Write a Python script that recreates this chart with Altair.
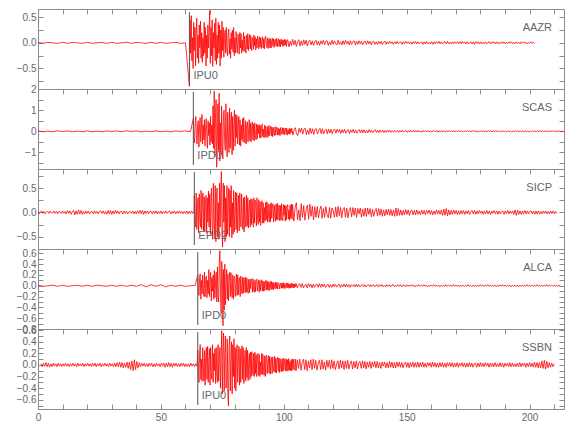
import json
import altair as alt
import pandas as pd

FONT = "Liberation Sans"
GREY = "#8c8c8c"
TEXT = "#666666"

X_MAX = 214
X_TICKS = [0, 10, 20, 30, 40, 50, 60, 70, 80, 90, 100, 110, 120, 130, 140, 150, 160, 170, 180, 190, 200, 210]
X_LABELS = [0, 50, 100, 150, 200]

STATIONS = ["AAZR", "SCAS", "SICP", "ALCA", "SSBN"]
PICKS = ["IPU0", "IPD0", "EPD2", "IPD0", "IPU0"]
PICK_TIMES = [61.6, 63.2, 63.6, 65.0, 65.0]
Y_DOMAINS = [[-0.9, 0.66], [-1.78, 2.0], [-0.75, 0.89], [-0.8, 0.68], [-0.76, 0.62]]
Y_TICKS = [
    [-0.75, -0.5, -0.25, 0, 0.25, 0.5],
    [-1.5, -1, -0.5, 0, 0.5, 1, 1.5, 2],
    [-0.75, -0.5, -0.25, 0, 0.25, 0.5, 0.75],
    [-0.8, -0.7, -0.6, -0.5, -0.4, -0.3, -0.2, -0.1, 0, 0.1, 0.2, 0.3, 0.4, 0.5, 0.6],
    [-0.7, -0.6, -0.5, -0.4, -0.3, -0.2, -0.1, 0, 0.1, 0.2, 0.3, 0.4, 0.5, 0.6],
]
Y_LABELS = [
    [-0.5, 0, 0.5],
    [-1, 0, 1, 2],
    [-0.5, 0, 0.5],
    [-0.8, -0.6, -0.4, -0.2, 0, 0.2, 0.4, 0.6],
    [-0.6, -0.4, -0.2, 0, 0.2, 0.4, 0.6],
]
Y_FORMATS = [".1f", ".0f", ".1f", ".1f", ".1f"]

# ---------------- traces: amplitude samples ----------------
AAZR_PRE = [0.01,-0.01,0.01,0.0,-0.01,0.01,-0.01,0.01,0.0,-0.01,0.01,-0.01,0.0,0.01,-0.01,0.01,-0.01,0.0,0.01,-0.01,0.01,0.0,-0.01,0.01,-0.01,0.01,-0.01,0.0,0.01,-0.01,0.0]
AAZR_MAIN = [
    -0.85,0.45,-0.2,0.53, -0.35,0.1,-0.5,0.4, -0.15,0.3,-0.45,0.2, 0.48,-0.3,0.15,-0.4,
    0.35,-0.1,0.42,-0.3, 0.2,-0.38,0.1,-0.25, 0.4,-0.2,0.3,-0.45, 0.15,-0.3,0.35,-0.1,
    0.2,0.63,-0.4,0.3, -0.25,0.45,-0.46,0.2, -0.1,0.38,-0.35,0.48, -0.42,0.15,-0.3,0.4,
    -0.2,0.35,-0.45,0.25, -0.3,0.42,-0.15,0.3, -0.28,0.1,0.25,-0.2, 0.3,-0.1,-0.25,0.18,
    0.27,-0.22,0.08,-0.3, 0.2,-0.12,0.25,-0.18, 0.3,-0.25,0.1,-0.2, 0.22,-0.05,-0.2,0.17,
    0.12,-0.22,0.2,-0.1, 0.18,-0.2,0.05,-0.15, 0.2,-0.17,0.13,-0.08, -0.2,0.15,-0.12,0.18,
    -0.15,0.06,0.16,-0.12, 0.14,-0.15,0.04,0.1, -0.13,0.15,-0.06,0.12, -0.14,0.08,-0.1,0.13,
    0.05,-0.12,0.12,-0.08, 0.1,-0.11,0.03,0.12, -0.1,0.08,-0.12,0.1, 0.13,-0.05,-0.09,0.1,
    -0.11,0.06,0.09,-0.1, 0.08,-0.1,0.04,0.09, -0.07,0.08,-0.09,0.05, 0.07,-0.06,0.09,-0.08,
    0.02,0.08,-0.07,0.06, -0.08,0.07,-0.03,0.06, -0.07,0.05,-0.06,0.07, -0.04,0.06,-0.07,0.05]
AAZR_CODA = [
    0.06,-0.08,0.03,-0.05,0.07,-0.04,0.05,-0.07,0.02,0.06,-0.06,0.04,-0.05,0.06,-0.03,0.05,-0.06,0.03,0.05,-0.04,
    0.04,-0.05,0.02,0.05,-0.04,0.03,-0.05,0.04,-0.02,0.05,-0.04,0.03,0.04,-0.05,0.02,-0.04,0.05,-0.03,0.04,-0.02,
    -0.04,0.05,-0.03,0.02,-0.04,0.04,-0.03,0.05,-0.02,0.03,-0.04,0.04,-0.03,0.02,0.04,-0.04,0.03,-0.03,0.04,-0.02,
    0.03,-0.04,0.02,0.03,-0.03,0.04,-0.02,0.03,-0.04,0.02,0.03,-0.03,0.02,-0.03,0.03,-0.02,0.03,-0.03,0.01,0.03,
    -0.03,0.02,-0.02,0.03,-0.01,0.02,-0.03,0.02,-0.02,0.03,-0.02,0.01,0.02,-0.03,0.02,-0.02,0.03,-0.01,0.02,-0.02,
    0.02,-0.03,0.02,-0.01,0.03,-0.02,0.02,-0.02,0.01,0.02,-0.03,0.02,-0.02,0.03,-0.02,0.01,-0.02,0.02,-0.03,0.02,
    -0.02,0.02,-0.01,0.03,-0.02,0.02,-0.02,0.01,0.02,-0.02,0.03,-0.02,0.01,-0.02,0.02,-0.02,0.02,-0.01,0.02,-0.02,
    0.02,-0.02,0.03,-0.01,0.02,-0.02,0.02,-0.02,0.01,0.02,-0.02,0.02,-0.03,0.02,-0.01,0.02,-0.02,0.02,-0.02,0.01,
    -0.02,0.02,-0.02,0.01,0.02,-0.02,0.02,-0.01,0.02,-0.02,0.02,-0.02,0.01,-0.02,0.02,-0.01,0.02,-0.02,0.01,-0.01,
    0.02,-0.01,0.02,-0.02,0.01,-0.02,0.02,-0.01,0.01,-0.02,0.02,-0.01,0.02,-0.01,0.01,-0.02,0.01,-0.01,0.02,-0.01,
    0.01,-0.01]

SCAS_PRE = [0.02,-0.02,0.01,-0.02,0.02,-0.01,0.02,-0.02,0.01,-0.02,0.02,-0.02,0.01,-0.02,0.02,-0.01,0.02,-0.02,0.02,-0.01,0.02,-0.02,0.01,-0.02,0.02,-0.02,0.01,-0.02,0.02,-0.01,0.02,-0.02]
SCAS_MAIN = [
    0.6,-0.3,-0.55,0.4, 0.7,-0.2,-0.6,0.3, 0.5,-0.75,0.2,0.65, -0.5,0.1,0.8,-0.6,
    0.3,-0.4,0.55,-0.7, 0.2,0.6,-0.35,-0.8, 0.5,-0.2,0.4,-0.65, 0.7,-0.5,0.3,-0.6,
    1.2,-0.8,1.9,-1.2, 0.6,1.5,-1.7,-0.5, 1.3,-0.9,1.8,-1.4, 0.4,-1.1,1.2,-0.6,
    -1.3,0.8,1.0,-0.5, -0.9,1.3,-0.4,-1.2, 0.9,-0.3,-1.0,1.1, -0.8,0.5,0.9,-1.1,
    0.7,-0.9,0.4,1.0, -0.7,0.8,-0.3,0.75, -0.6,0.2,0.7,-0.65, 0.55,-0.7,0.3,-0.4,
    0.6,-0.5,0.65,-0.2, -0.55,0.5,-0.6,0.3, 0.45,-0.5,0.1,0.55, -0.45,0.4,-0.5,0.2,
    0.45,-0.4,0.35,-0.45, 0.4,-0.2,-0.4,0.35, -0.35,0.3,-0.1,0.32, -0.3,0.28,-0.32,0.15,
    0.35,-0.25,0.1,-0.3, 0.3,-0.28,0.25,-0.1, -0.3,0.22,-0.25,0.28, -0.2,0.05,0.25,-0.22,
    0.2,-0.25,0.18,-0.1, -0.2,0.22,-0.18,0.08, 0.2,-0.17,0.15,-0.18, 0.12,-0.2,0.18,-0.05,
    -0.15,0.18,-0.12,0.15, -0.17,0.1,0.16,-0.14, 0.15,-0.18,0.06,-0.12, 0.14,-0.15,0.12,-0.08]
SCAS_CODA = [
    0.15,-0.18,0.08,0.17,-0.12,-0.2,0.14,-0.05,0.16,-0.13,0.1,0.15,-0.16,0.06,-0.14,0.16,-0.1,0.12,-0.15,0.08,
    0.13,-0.12,0.05,0.14,-0.11,0.12,-0.13,0.04,0.1,-0.12,0.11,-0.08,0.1,-0.11,0.06,0.1,-0.09,0.1,-0.04,0.09,
    -0.1,0.08,-0.06,0.09,-0.09,0.03,0.08,-0.1,0.07,-0.05,0.09,-0.08,0.06,-0.09,0.02,0.08,-0.07,0.08,-0.06,0.07,
    -0.08,0.04,-0.07,0.08,-0.05,0.06,-0.07,0.03,0.07,-0.06,0.05,-0.07,0.06,-0.03,0.06,-0.06,0.04,-0.05,0.06,-0.04,
    0.05,-0.05,0.03,-0.04,0.05,-0.02,0.04,-0.05,0.04,-0.03,0.05,-0.04,0.02,0.04,-0.05,0.03,-0.04,0.05,-0.02,0.04,
    -0.04,0.04,-0.03,0.05,-0.04,0.02,-0.04,0.04,-0.03,0.04,-0.02,0.04,-0.04,0.03,-0.04,0.02,0.04,-0.03,0.04,-0.04,
    0.03,-0.04,0.04,-0.02,0.03,-0.04,0.03,-0.03,0.04,-0.02,0.03,-0.03,0.04,-0.03,0.02,-0.03,0.04,-0.03,0.03,-0.02,
    -0.03,0.03,-0.02,0.04,-0.03,0.03,-0.03,0.02,0.03,-0.03,0.03,-0.04,0.02,-0.03,0.03,-0.02,0.03,-0.03,0.02,-0.03,
    0.03,-0.02,0.03,-0.03,0.02,-0.03,0.03,-0.02,0.03,-0.03,0.02,-0.02,0.03,-0.03,0.02,-0.03,0.03,-0.02,0.02,-0.03,
    0.02,-0.03,0.03,-0.02,0.03,-0.02,0.02,-0.03,0.02,-0.02,0.03,-0.02,0.02,-0.03,0.02,-0.02,0.03,-0.02,0.02,-0.02,
    0.03,-0.02,0.02,-0.02,0.03,-0.02,0.02,-0.03,0.02,-0.02,0.02,-0.02,0.03,-0.02,0.02,-0.02,0.02,-0.02,0.02,-0.02,
    0.02,-0.02]

SICP_PRE = [
    0.02,-0.03,0.01,0.03,-0.02,0.02,-0.03,0.01,0.02,-0.02,0.03,-0.01,-0.02,0.03,-0.02,0.02,-0.03,0.02,0.01,-0.02,
    0.03,-0.02,0.02,-0.03,0.04,-0.02,0.03,-0.04,0.02,0.04,-0.05,0.03,-0.04,0.05,-0.03,0.04,-0.04,0.02,-0.03,0.03,
    -0.02,0.03,-0.03,0.01,0.02,-0.03,0.03,-0.02,0.02,-0.03,0.02,0.03,-0.02,0.03,-0.03,0.02,-0.04,0.04,-0.03,0.04,
    -0.04,0.03,-0.03,0.04,-0.02,0.03,-0.03,0.02,0.02,-0.03,0.03,-0.02,0.02,-0.03,0.01,0.02,-0.02,0.03,-0.03,0.02,
    -0.03,0.03,-0.02,0.04,-0.03,0.04,-0.04,0.03,-0.02,0.03,-0.03,0.02,0.02,-0.03,0.03,-0.02,0.03,-0.03,0.02,-0.02,
    0.03,-0.03,0.02,-0.02,0.03,-0.02,0.01,0.03,-0.03,0.02,-0.02,0.03,-0.03,0.02,-0.02,0.03,-0.02,0.02,-0.03,0.02,
    -0.02,0.03,-0.03,0.02,-0.02,0.03,-0.02,0.02]
SICP_MAIN = [
    0.35,-0.2,-0.3,0.4, -0.35,0.1,0.3,-0.42, 0.38,-0.1,-0.3,0.45, -0.35,0.2,0.4,-0.38,
    0.32,-0.4,0.15,0.35, -0.42,0.3,-0.2,0.44, -0.3,0.38,-0.45,0.2, 0.5,-0.3,-0.55,0.6,
    -0.2,-0.45,0.55,-0.6, 0.3,0.5,-0.5,0.2, -0.55,0.6,-0.3,0.45, 0.84,-0.4,-0.71,0.6,
    -0.2,0.55,-0.6,0.3, -0.5,0.55,-0.45,0.1, 0.5,-0.5,0.45,-0.3, 0.55,-0.52,0.2,-0.45,
    0.45,-0.4,0.1,0.42, -0.35,0.4,-0.42,0.15, 0.35,-0.38,0.4,-0.2, -0.3,0.38,-0.1,-0.35,
    0.3,-0.4,0.32,-0.15, -0.3,0.35,-0.28,0.3, -0.32,0.1,0.25,-0.3, 0.28,-0.25,0.27,-0.1,
    -0.3,0.3,-0.22,0.25, 0.2,-0.28,0.3,-0.15, -0.25,0.26,-0.2,0.22, -0.27,0.12,0.24,-0.22,
    0.2,-0.22,0.1,-0.18, 0.2,-0.15,0.22,-0.2, 0.18,-0.08,-0.2,0.17, -0.19,0.2,-0.12,0.16,
    0.18,-0.2,0.15,-0.05, -0.18,0.17,-0.15,0.19, -0.16,0.08,0.15,-0.17, 0.14,-0.16,0.18,-0.1,
    -0.17,0.16,-0.06,0.15, -0.18,0.14,-0.15,0.12, 0.16,-0.14,0.05,-0.16, 0.15,-0.12,0.17,-0.14]
SICP_CODA = [
    0.16,-0.18,0.1,0.2,-0.15,0.05,-0.17,0.18,-0.1,0.14,-0.16,0.06,0.15,-0.14,0.17,-0.08,0.13,-0.15,0.12,-0.1,
    0.12,-0.11,0.05,0.13,-0.12,0.08,-0.1,0.12,-0.04,-0.11,0.1,-0.12,0.09,0.03,-0.1,0.11,-0.09,0.12,-0.07,0.1,
    -0.11,0.06,0.1,-0.1,0.09,-0.11,0.04,0.1,-0.09,0.1,-0.06,0.09,-0.1,0.08,-0.03,0.09,-0.1,0.07,-0.08,0.09,
    -0.08,0.09,-0.04,0.08,-0.09,0.06,-0.08,0.03,0.08,-0.07,0.08,-0.06,0.07,-0.08,0.05,-0.07,0.06,-0.05,0.07,-0.06,
    0.06,-0.07,0.05,-0.08,0.09,-0.07,0.08,-0.06,0.05,-0.06,0.04,-0.05,0.06,-0.04,0.05,-0.06,0.03,0.05,-0.05,0.04,
    -0.05,0.05,-0.04,0.03,-0.05,0.05,-0.03,0.04,-0.05,0.04,-0.02,0.05,-0.04,0.04,-0.05,0.03,-0.04,0.05,-0.03,0.04,
    -0.04,0.05,-0.06,0.07,-0.06,0.08,-0.07,0.05,-0.05,0.04,-0.04,0.05,-0.03,0.04,-0.04,0.03,-0.04,0.04,-0.03,0.04,
    -0.04,0.03,-0.03,0.04,-0.04,0.02,0.04,-0.03,0.04,-0.04,0.03,-0.03,0.04,-0.02,0.03,-0.04,0.03,-0.03,0.04,-0.03,
    0.03,-0.04,0.03,-0.02,0.04,-0.03,0.03,-0.04,0.03,-0.03,0.02,0.03,-0.04,0.03,-0.03,0.04,-0.03,0.03,-0.02,0.03,
    -0.04,0.05,-0.06,0.05,-0.04,0.03,-0.04,0.03,-0.03,0.04,-0.03,0.03,-0.03,0.02,0.03,-0.03,0.03,-0.04,0.03,-0.03,
    0.03,-0.03,0.02,-0.03,0.03,-0.02,0.03,-0.03,0.02,-0.03,0.03,-0.02,0.03,-0.03,0.02,-0.02]

ALCA_PRE = [0.01,-0.01,0.0,0.01,-0.01,0.01,-0.01,0.0,0.01,-0.01,0.01,-0.01,0.01,0.0,-0.01,0.01,-0.01,0.01,-0.01,0.01,-0.01,0.02,-0.02,0.02,-0.01,0.02,-0.02,0.01,-0.01,0.01,-0.01,0.0,0.01]
ALCA_MAIN = [
    0.2,-0.1,-0.18,0.15, 0.22,-0.25,0.1,-0.15, 0.2,-0.05,-0.2,0.25, -0.2,0.12,0.18,-0.22,
    0.1,-0.15,0.3,-0.2, 0.05,0.25,-0.28,0.15, -0.1,0.2,-0.25,0.28, -0.22,0.1,0.25,-0.3,
    0.35,-0.2,-0.3,0.4, 0.65,-0.1,-0.5,0.45, 0.2,-0.74,0.3,-0.45, 0.4,-0.35,0.1,0.3,
    -0.25,0.22,-0.28,0.1, 0.25,-0.2,0.24,-0.08, -0.22,0.2,-0.25,0.15, 0.18,-0.2,0.05,0.22,
    -0.18,0.2,-0.17,0.1, 0.15,-0.2,0.18,-0.05, -0.15,0.16,-0.14,0.15, 0.1,-0.13,0.16,-0.12,
    0.14,-0.1,-0.14,0.12, -0.13,0.12,-0.05,0.13, 0.11,-0.12,0.13,-0.08, -0.12,0.1,-0.11,0.12,
    0.12,-0.1,0.04,0.11, -0.12,0.1,-0.09,0.05, 0.11,-0.1,0.09,-0.1, 0.08,-0.09,0.03,0.1,
    -0.08,0.09,-0.08,0.07, -0.09,0.04,0.08,-0.07, 0.08,-0.07,0.06,-0.07, 0.06,-0.03,-0.06,0.07,
    -0.05,0.06,-0.06,0.05, 0.05,-0.06,0.02,0.05, -0.05,0.05,-0.04,0.06, -0.05,0.04,-0.05,0.02,
    0.05,-0.04,0.05,-0.04, 0.04,-0.05,0.03,-0.04, 0.05,-0.03,0.04,-0.04, 0.03,-0.04,0.04,-0.02]
ALCA_CODA = [
    0.04,-0.04,0.02,0.04,-0.03,0.04,-0.04,0.01,0.03,-0.04,0.04,-0.02,0.03,-0.04,0.03,-0.03,0.02,0.03,-0.03,0.04,
    -0.03,0.03,-0.02,0.03,-0.03,0.01,0.03,-0.03,0.02,-0.03,0.03,-0.02,0.03,-0.02,0.01,0.03,-0.03,0.02,-0.02,0.03,
    -0.02,0.03,-0.02,0.02,-0.03,0.02,-0.01,0.02,-0.02,0.03,-0.02,0.02,-0.02,0.01,0.02,-0.02,0.02,-0.02,0.01,0.02,
    -0.02,0.02,-0.01,0.02,-0.02,0.01,0.02,-0.02,0.02,-0.01,0.02,-0.02,0.01,-0.02,0.02,-0.01,0.02,-0.02,0.01,0.02,
    -0.02,0.01,-0.01,0.02,-0.01,0.02,-0.02,0.01,0.01,-0.02,0.02,-0.01,0.01,-0.01,0.02,-0.01,0.01,-0.02,0.01,-0.01,
    0.02,-0.01,0.01,-0.01,0.02,-0.01,0.01,-0.02,0.01,-0.01,0.01,-0.01,0.02,-0.01,0.01,-0.01,0.01,-0.02,0.01,-0.01,
    0.01,-0.01,0.02,-0.01,0.01,-0.01,0.01,-0.01,0.02,-0.01,0.01,-0.01,0.01,-0.02,0.01,-0.01,0.01,-0.01,0.01,-0.01,
    0.02,-0.01,0.01,-0.01,0.01,-0.02,0.01,-0.01,0.01,-0.01,0.02,-0.01,0.01,-0.01,0.01,-0.01,0.02,-0.01,0.01,-0.01,
    0.01,-0.01,0.01,-0.02,0.01,-0.01,0.01,-0.01,0.02,-0.01,0.01,-0.01,0.01,-0.01,0.01,-0.02,0.01,-0.01,0.01,-0.01,
    0.01,-0.02,0.01,-0.01,0.01,-0.01,0.01,-0.01,0.02,-0.01,0.01,-0.01,0.01,-0.01,0.01,-0.01,0.02,-0.01,0.01,-0.01,
    0.01,-0.01,0.01,-0.01,0.02,-0.01,0.01,-0.01,0.01,-0.01,0.01,-0.01,0.01,-0.01,0.01,-0.01]

SSBN_PRE = [
    0.02,-0.03,0.03,-0.02,0.04,-0.03,0.03,-0.04,0.02,-0.03,0.03,-0.02,0.02,-0.03,0.03,-0.02,0.02,-0.03,0.02,-0.02,
    0.03,-0.02,0.02,-0.03,0.02,-0.02,0.03,-0.02,0.02,-0.03,0.03,-0.02,0.02,-0.02,0.03,-0.03,0.02,-0.02,0.03,-0.02,
    0.02,-0.03,0.03,-0.02,0.03,-0.03,0.02,-0.02,0.03,-0.03,0.02,-0.02,0.03,-0.02,0.02,-0.03,0.03,-0.02,0.02,-0.03,
    0.03,-0.03,0.04,-0.03,0.05,-0.04,0.04,-0.05,0.03,-0.04,0.05,-0.06,0.05,-0.08,0.07,-0.1,0.09,-0.08,0.06,-0.05,
    0.04,-0.03,0.03,-0.02,0.03,-0.03,0.02,-0.03,0.03,-0.02,0.03,-0.03,0.02,-0.03,0.03,-0.02,0.02,-0.03,0.03,-0.02,
    0.03,-0.04,0.03,-0.03,0.04,-0.03,0.03,-0.04,0.03,-0.02,0.03,-0.03,0.02,-0.03,0.03,-0.02,0.03,-0.03,0.02,-0.03,
    0.02,-0.03,0.03,-0.02,0.02,-0.03,0.02,-0.02]
SSBN_MAIN = [
    0.25,-0.1,-0.3,0.2, 0.35,-0.25,0.1,-0.28, 0.3,-0.05,-0.28,0.25, -0.35,0.15,0.3,-0.25,
    0.32,-0.3,0.05,0.28, -0.35,0.3,-0.15,-0.25, 0.35,-0.3,0.2,-0.1, 0.28,-0.32,0.3,-0.2,
    -0.3,0.35,-0.28,0.1, 0.3,-0.4,0.2,0.59, -0.5,0.3,0.55,-0.45, 0.2,0.5,-0.4,-0.3,
    0.45,-0.55,-0.71,0.3, 0.5,-0.45,0.1,0.4, -0.5,0.35,-0.2,0.45, -0.4,0.3,-0.45,0.2,
    0.35,-0.3,0.1,0.32, -0.35,0.28,-0.3,0.15, 0.33,-0.25,0.3,-0.32, 0.05,0.25,-0.28,0.3,
    -0.22,0.25,-0.27,0.1, 0.2,-0.25,0.22,-0.2, 0.23,-0.1,-0.18,0.2, -0.2,0.22,-0.15,0.18,
    -0.2,0.12,0.2,-0.18, 0.18,-0.2,0.05,-0.16, 0.2,-0.17,0.18,-0.1, -0.18,0.16,-0.2,0.14,
    0.17,-0.15,0.05,0.16, -0.14,0.15,-0.16,0.1, 0.13,-0.15,0.14,-0.05, -0.12,0.15,-0.13,0.12,
    -0.14,0.08,0.13,-0.11, 0.12,-0.13,0.11,-0.06, -0.12,0.1,-0.11,0.12, -0.1,0.04,0.11,-0.1,
    0.1,-0.11,0.09,-0.1, 0.11,-0.09,0.06,-0.1, 0.09,-0.1,0.1,-0.08, 0.1,-0.04,-0.09,0.1]
SSBN_CODA = [
    -0.1,0.09,-0.06,0.1,-0.09,0.04,0.1,-0.08,0.09,-0.1,0.07,-0.05,0.09,-0.08,0.1,-0.06,0.08,-0.09,0.03,0.08,
    -0.08,0.09,-0.07,0.05,-0.09,0.08,-0.04,0.08,-0.07,0.09,-0.06,0.07,-0.08,0.02,0.07,-0.07,0.08,-0.05,0.07,-0.08,
    0.07,-0.06,0.08,-0.07,0.03,0.07,-0.07,0.06,-0.05,0.07,-0.07,0.04,0.06,-0.06,0.07,-0.05,0.06,-0.07,0.05,-0.04,
    0.06,-0.06,0.05,-0.03,0.06,-0.05,0.06,-0.05,0.04,-0.06,0.05,-0.02,0.05,-0.05,0.04,-0.05,0.06,-0.04,0.05,-0.05,
    0.04,-0.05,0.05,-0.03,0.05,-0.04,0.04,-0.05,0.02,0.05,-0.04,0.04,-0.05,0.04,-0.03,0.05,-0.04,0.04,-0.04,0.05,
    -0.04,0.04,-0.03,0.05,-0.04,0.03,-0.04,0.04,-0.02,0.04,-0.04,0.05,-0.03,0.04,-0.04,0.03,-0.04,0.04,-0.03,0.04,
    -0.04,0.03,-0.04,0.04,-0.02,0.04,-0.03,0.04,-0.04,0.03,-0.03,0.04,-0.04,0.03,-0.02,0.04,-0.03,0.03,-0.04,0.03,
    -0.03,0.04,-0.03,0.03,-0.04,0.02,0.03,-0.04,0.03,-0.03,0.04,-0.03,0.03,-0.03,0.04,-0.02,0.03,-0.04,0.03,-0.03,
    0.03,-0.03,0.04,-0.03,0.02,-0.03,0.04,-0.03,0.03,-0.04,0.03,-0.02,0.03,-0.03,0.04,-0.03,0.03,-0.03,0.02,-0.03,
    0.03,-0.03,0.04,-0.03,0.03,-0.02,0.03,-0.04,0.03,-0.03,0.04,-0.03,0.03,-0.04,0.05,-0.04,0.04,-0.05,0.04,-0.05,
    0.07,-0.06,0.08,-0.07,0.06,-0.05,0.04,-0.04,0.03,-0.03,0.02]

# (start time, sample interval, samples)
SEGMENTS = {
    "AAZR": [(0.0, 2.0, AAZR_PRE), (61.6, 0.25, AAZR_MAIN), (101.6, 0.5, AAZR_CODA)],
    "SCAS": [(0.0, 2.0, SCAS_PRE), (63.2, 0.25, SCAS_MAIN), (103.2, 0.5, SCAS_CODA)],
    "SICP": [(0.0, 0.5, SICP_PRE), (63.6, 0.25, SICP_MAIN), (103.6, 0.5, SICP_CODA)],
    "ALCA": [(0.0, 2.0, ALCA_PRE), (65.0, 0.25, ALCA_MAIN), (105.0, 0.5, ALCA_CODA)],
    "SSBN": [(1.2, 0.5, SSBN_PRE), (65.0, 0.25, SSBN_MAIN), (105.0, 0.5, SSBN_CODA)],
}

W, H = 526, 80


def panel(i, last):
    name = STATIONS[i]
    rows = []
    for t0, dt, vals in SEGMENTS[name]:
        for k, v in enumerate(vals):
            rows.append({"t": t0 + k * dt, "v": v})
    df = pd.DataFrame(rows)
    xs = alt.Scale(domain=[0, X_MAX], nice=False, zero=False)
    ys = alt.Scale(domain=Y_DOMAINS[i], nice=False, zero=False)
    ylab = "indexof(" + json.dumps(Y_LABELS[i]) + ", datum.value) >= 0 ? datum.label : ''"
    xlab = "indexof(" + json.dumps(X_LABELS) + ", datum.value) >= 0 ? datum.label : ''"
    common = dict(tickSize=5, offset=-5, domain=False, grid=False, title=None,
                  tickColor=GREY, labelOverlap=False)
    top_axis = alt.Axis(orient="top", values=X_TICKS, labels=False, **common)
    left_axis = alt.Axis(orient="left", values=Y_TICKS[i], format=Y_FORMATS[i],
                         labelExpr=ylab, labelPadding=2, **common)
    right_axis = alt.Axis(orient="right", values=Y_TICKS[i], labels=False, **common)
    trace = alt.Chart(df).mark_line(color="#ff0000", strokeWidth=0.8, clip=True).encode(
        x=alt.X("t:Q", scale=xs, axis=top_axis),
        y=alt.Y("v:Q", scale=ys, axis=left_axis),
        order="t:Q",
    )
    frame_df = pd.DataFrame({"t": [0, X_MAX], "v": [0, 0]})
    if last:
        bx = alt.X("t:Q", scale=xs, axis=alt.Axis(orient="bottom", values=X_TICKS, labelExpr=xlab,
                                                   labelPadding=3, labelFlush=False, **common))
    else:
        bx = alt.X("t:Q", scale=xs, axis=None)
    frame = alt.Chart(frame_df).mark_point(opacity=0, size=0, clip=True).encode(
        x=bx, y=alt.Y("v:Q", scale=ys, axis=right_axis))
    pick_df = pd.DataFrame({"t": [PICK_TIMES[i]], "label": [PICKS[i]], "station": [name]})
    rule = alt.Chart(pick_df).mark_rule(color="#555555", strokeWidth=1).encode(
        x=alt.X("t:Q", scale=xs, axis=None), y=alt.value(3), y2=alt.value(76))
    ptext = alt.Chart(pick_df).mark_text(align="left", baseline="alphabetic", dx=4, fontSize=11,
                                         font=FONT, color=TEXT).encode(
        x=alt.X("t:Q", scale=xs, axis=None), y=alt.value(70), text="label:N")
    stext = alt.Chart(pick_df).mark_text(align="right", baseline="alphabetic", fontSize=11,
                                         font=FONT, color=TEXT).encode(
        x=alt.value(W - 12), y=alt.value(22), text="station:N")
    return alt.layer(trace, frame, rule, ptext, stext).resolve_axis(
        x="independent", y="independent").properties(width=W, height=H)


panels = [panel(i, i == len(STATIONS) - 1) for i in range(len(STATIONS))]
chart = alt.vconcat(*panels, spacing=0, bounds="flush").properties(
    padding={"left": 7, "top": 0, "right": 2, "bottom": 2}
).configure_view(stroke=GREY, strokeWidth=1).configure_axis(
    labelFont=FONT, labelFontSize=10, labelColor=TEXT
)

chart.save("out.html", embed_options={"renderer": "svg", "actions": False})
